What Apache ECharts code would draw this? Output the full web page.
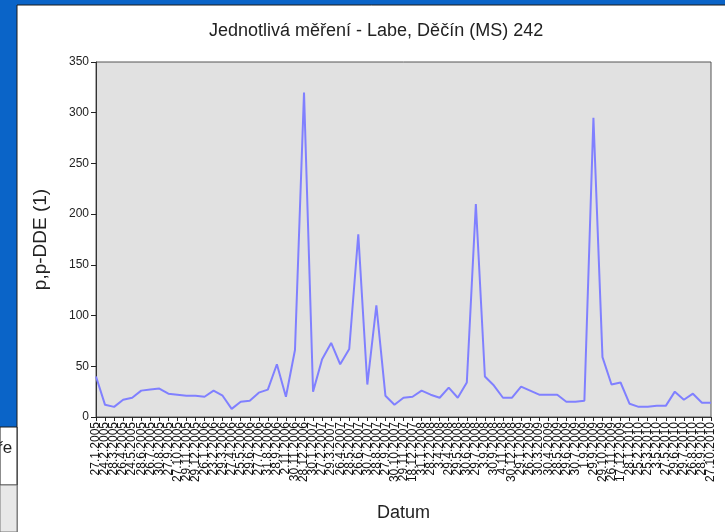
<!DOCTYPE html>
<html>
<head>
<meta charset="utf-8">
<script src="https://cdn.jsdelivr.net/npm/echarts@6/dist/echarts.min.js"></script>
<style>
  html, body { margin: 0; padding: 0; background: #0a64c8; }
  #lineChart { width: 725px; height: 532px; }
</style>
</head>
<body>
<div id="lineChart"></div>
<script>
// data
var dates = [
    '27.1.2005', '24.2.2005', '28.3.2005', '26.4.2005', '24.5.2005', '28.6.2005',
    '26.7.2005', '30.8.2005', '27.9.2005', '27.10.2005', '29.11.2005', '29.12.2005',
    '26.1.2006', '23.2.2006', '29.3.2006', '27.4.2006', '25.5.2006', '29.6.2006',
    '27.7.2006', '31.8.2006', '28.9.2006', '2.11.2006', '30.11.2006', '28.12.2006',
    '30.1.2007', '27.2.2007', '29.3.2007', '26.4.2007', '28.5.2007', '26.6.2007',
    '30.7.2007', '28.8.2007', '27.9.2007', '30.10.2007', '29.11.2007', '18.12.2007',
    '31.1.2008', '28.2.2008', '3.4.2008', '29.4.2008', '29.5.2008', '30.6.2008',
    '29.7.2008', '3.9.2008', '30.9.2008', '4.11.2008', '30.12.2008',
    '29.1.2009', '26.2.2009', '30.3.2009', '30.4.2009', '28.5.2009', '29.6.2009',
    '30.7.2009', '1.9.2009', '29.9.2009', '29.10.2009', '26.11.2009', '17.12.2009',
    '28.1.2010', '25.2.2010', '25.3.2010', '3.5.2010', '27.5.2010', '29.6.2010',
    '29.7.2010', '26.8.2010', '28.9.2010', '27.10.2010'
];
var ddeValues = [
    40, 12, 10, 17, 19, 26, 27, 28, 23, 22, 21, 21,
    20, 26, 21, 8, 15, 16, 24, 27, 52, 20, 66, 320,
    25, 57, 73, 52, 67, 180, 32, 110, 21, 12, 19, 20,
    26, 22, 19, 29, 19, 34, 210, 40, 31, 19, 19,
    30, 26, 22, 22, 22, 15, 15, 16, 295, 59, 32, 34,
    13, 10, 10, 11, 11, 25, 17, 23, 14, 14
];
var yTicks = [0, 50, 100, 150, 200, 250, 300, 350];

var myChart = echarts.init(document.getElementById('lineChart'));
var option = {
    backgroundColor: '#0a64c8',
    animation: false,
    textStyle: { fontFamily: 'Liberation Sans, Arial, sans-serif' },
    graphic: [
        // white window panel
        { type: 'rect', shape: { x: 17, y: 5, width: 720, height: 540 },
          style: { fill: '#ffffff', stroke: '#1a1a1a', lineWidth: 1 }, z: -10 },
        // piece of the window behind, bottom left
        { type: 'rect', shape: { x: 0, y: 427, width: 17, height: 58 },
          style: { fill: '#ffffff', stroke: '#1a1a1a', lineWidth: 1 }, z: -10 },
        { type: 'rect', shape: { x: 0, y: 485, width: 17, height: 47 },
          style: { fill: '#e8e8e8', stroke: '#777777', lineWidth: 1 }, z: -10 },
        { type: 'text', left: -3, top: 440,
          style: { text: 'ře', font: '17px Liberation Sans, Arial, sans-serif', fill: '#222' }, z: -9 }
    ],
    title: {
        text: 'Jednotlivá měření - Labe, Děčín (MS) 242',
        left: 204,
        top: 17,
        textStyle: { fontSize: 18, fontWeight: 'normal', color: '#222' }
    },
    grid: {
        left: 96,
        right: 14,
        top: 62,
        bottom: 115,
        show: true,
        backgroundColor: '#e1e1e1',
        borderColor: '#555',
        borderWidth: 1
    },
    xAxis: {
        type: 'category',
        data: dates,
        boundaryGap: false,
        name: 'Datum',
        nameLocation: 'middle',
        nameGap: 87,
        nameTextStyle: { fontSize: 18, color: '#222' },
        axisLine: { lineStyle: { color: '#333', width: 1 } },
        axisTick: { show: true, interval: 0, length: 4, lineStyle: { color: '#222' } },
        axisLabel: { rotate: 90, interval: 0, fontSize: 12, color: '#111', margin: 5 },
        splitLine: { show: false }
    },
    yAxis: {
        type: 'value',
        min: yTicks[0],
        max: yTicks[yTicks.length - 1],
        interval: 50,
        name: 'p,p-DDE (1)',
        nameLocation: 'middle',
        nameGap: 46,
        nameTextStyle: { fontSize: 19, color: '#222' },
        axisLine: { show: true, lineStyle: { color: '#333', width: 1 } },
        axisTick: { show: true, length: 5, lineStyle: { color: '#222' } },
        axisLabel: { fontSize: 12, color: '#222', margin: 7 },
        splitLine: { show: false }
    },
    series: [
        {
            name: 'p,p-DDE',
            type: 'line',
            data: ddeValues,
            symbol: 'none',
            lineStyle: { color: '#8080ff', width: 2 }
        }
    ]
};
myChart.setOption(option);
</script>
</body>
</html>
